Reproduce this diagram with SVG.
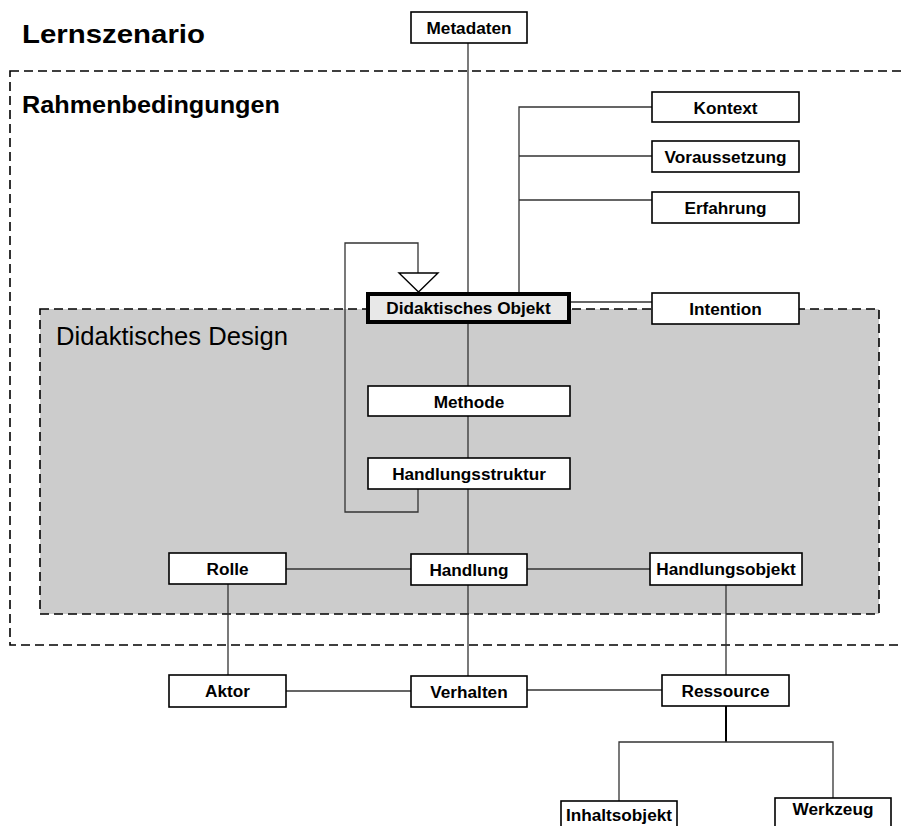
<svg xmlns="http://www.w3.org/2000/svg" width="902" height="826" viewBox="0 0 902 826">
  <style>
    .box { fill: #ffffff; stroke: #000000; stroke-width: 1.6; }
    .main { fill: #e8e8e8; stroke: #000000; stroke-width: 4; }
    .lbl { font-family: "Liberation Sans", Arial, sans-serif; font-weight: bold; font-size: 17.2px; fill: #000000; text-anchor: middle; }
    .title { font-family: "Liberation Sans", Arial, sans-serif; font-weight: bold; fill: #000000; }
    .area { font-family: "Liberation Sans", Arial, sans-serif; fill: #000000; }
    .frame { fill: none; stroke: #000000; stroke-width: 1.6; stroke-dasharray: 9 5; }
    .design { fill: #cccccc; stroke: #000000; stroke-width: 1.6; stroke-dasharray: 9 5; }
    .link { fill: none; stroke: #333333; stroke-width: 1.3; }
  </style>

  <!-- scenario frame and design area -->
  <rect class="frame" x="10" y="71" width="920" height="574"/>
  <rect class="design" x="40" y="309" width="839" height="305"/>

  <text class="title" x="22" y="43" font-size="26" textLength="183" lengthAdjust="spacingAndGlyphs">Lernszenario</text>
  <text class="title" x="22" y="113" font-size="24" textLength="258" lengthAdjust="spacingAndGlyphs">Rahmenbedingungen</text>
  <text class="area" x="56" y="345" font-size="25.6">Didaktisches Design</text>

  <!-- connectors -->
  <g id="connectors">
    <path class="link" d="M468 43 V292"/>
    <path class="link" d="M519 292 V107 H652 M519 156 H652 M519 200 H652"/>
    <path class="link" d="M571 302 H652"/>
    <path class="link" d="M468 323 V386 M468 416 V458 M468 489 V554 M468 585 V676"/>
    <path class="link" d="M418 273 V243 H345 V512 H418 V489"/>
    <polygon points="399,273 438,273 418.5,292" fill="#ffffff" stroke="#000000" stroke-width="1.4"/>
    <path class="link" d="M286 569 H411 M527 569 H650"/>
    <path class="link" d="M228 584 V675 M726 585 V675"/>
    <path class="link" d="M286 691 H411 M527 690 H662"/>
    <path d="M726 706 V742" fill="none" stroke="#000000" stroke-width="2"/>
    <path class="link" d="M619 801 V742 H833 V798"/>
  </g>

  <g id="metadaten">
    <rect class="box" x="411" y="12" width="116" height="31"/>
    <text class="lbl" x="469" y="33.5">Metadaten</text>
  </g>
  <g id="kontext">
    <rect class="box" x="652" y="92" width="147" height="30"/>
    <text class="lbl" x="725.5" y="113.5">Kontext</text>
  </g>
  <g id="voraussetzung">
    <rect class="box" x="652" y="141" width="147" height="31"/>
    <text class="lbl" x="725.5" y="162.5">Voraussetzung</text>
  </g>
  <g id="erfahrung">
    <rect class="box" x="652" y="192" width="147" height="31"/>
    <text class="lbl" x="725.5" y="213.5">Erfahrung</text>
  </g>
  <g id="didaktisches-objekt">
    <rect class="main" x="368" y="294" width="201" height="28"/>
    <text class="lbl" x="468.5" y="314">Didaktisches Objekt</text>
  </g>
  <g id="intention">
    <rect class="box" x="652" y="293" width="147" height="31"/>
    <text class="lbl" x="725.5" y="314.5">Intention</text>
  </g>
  <g id="methode">
    <rect class="box" x="368" y="386" width="202" height="30"/>
    <text class="lbl" x="469" y="407.5">Methode</text>
  </g>
  <g id="handlungsstruktur">
    <rect class="box" x="368" y="458" width="202" height="31"/>
    <text class="lbl" x="469" y="479.5">Handlungsstruktur</text>
  </g>
  <g id="rolle">
    <rect class="box" x="169" y="553" width="117" height="31"/>
    <text class="lbl" x="227.5" y="574.5">Rolle</text>
  </g>
  <g id="handlung">
    <rect class="box" x="411" y="554" width="116" height="31"/>
    <text class="lbl" x="469" y="575.5">Handlung</text>
  </g>
  <g id="handlungsobjekt">
    <rect class="box" x="650" y="553" width="152" height="32"/>
    <text class="lbl" x="726" y="575">Handlungsobjekt</text>
  </g>
  <g id="aktor">
    <rect class="box" x="169" y="675" width="117" height="32"/>
    <text class="lbl" x="227.5" y="697">Aktor</text>
  </g>
  <g id="verhalten">
    <rect class="box" x="411" y="676" width="116" height="31"/>
    <text class="lbl" x="469" y="697.5">Verhalten</text>
  </g>
  <g id="ressource">
    <rect class="box" x="662" y="675" width="127" height="31"/>
    <text class="lbl" x="725.5" y="696.5">Ressource</text>
  </g>
  <g id="inhaltsobjekt">
    <rect class="box" x="561" y="801" width="116" height="40"/>
    <text class="lbl" x="619" y="821">Inhaltsobjekt</text>
  </g>
  <g id="werkzeug">
    <rect class="box" x="775" y="798" width="116" height="40"/>
    <text class="lbl" x="833" y="815">Werkzeug</text>
  </g>
</svg>
